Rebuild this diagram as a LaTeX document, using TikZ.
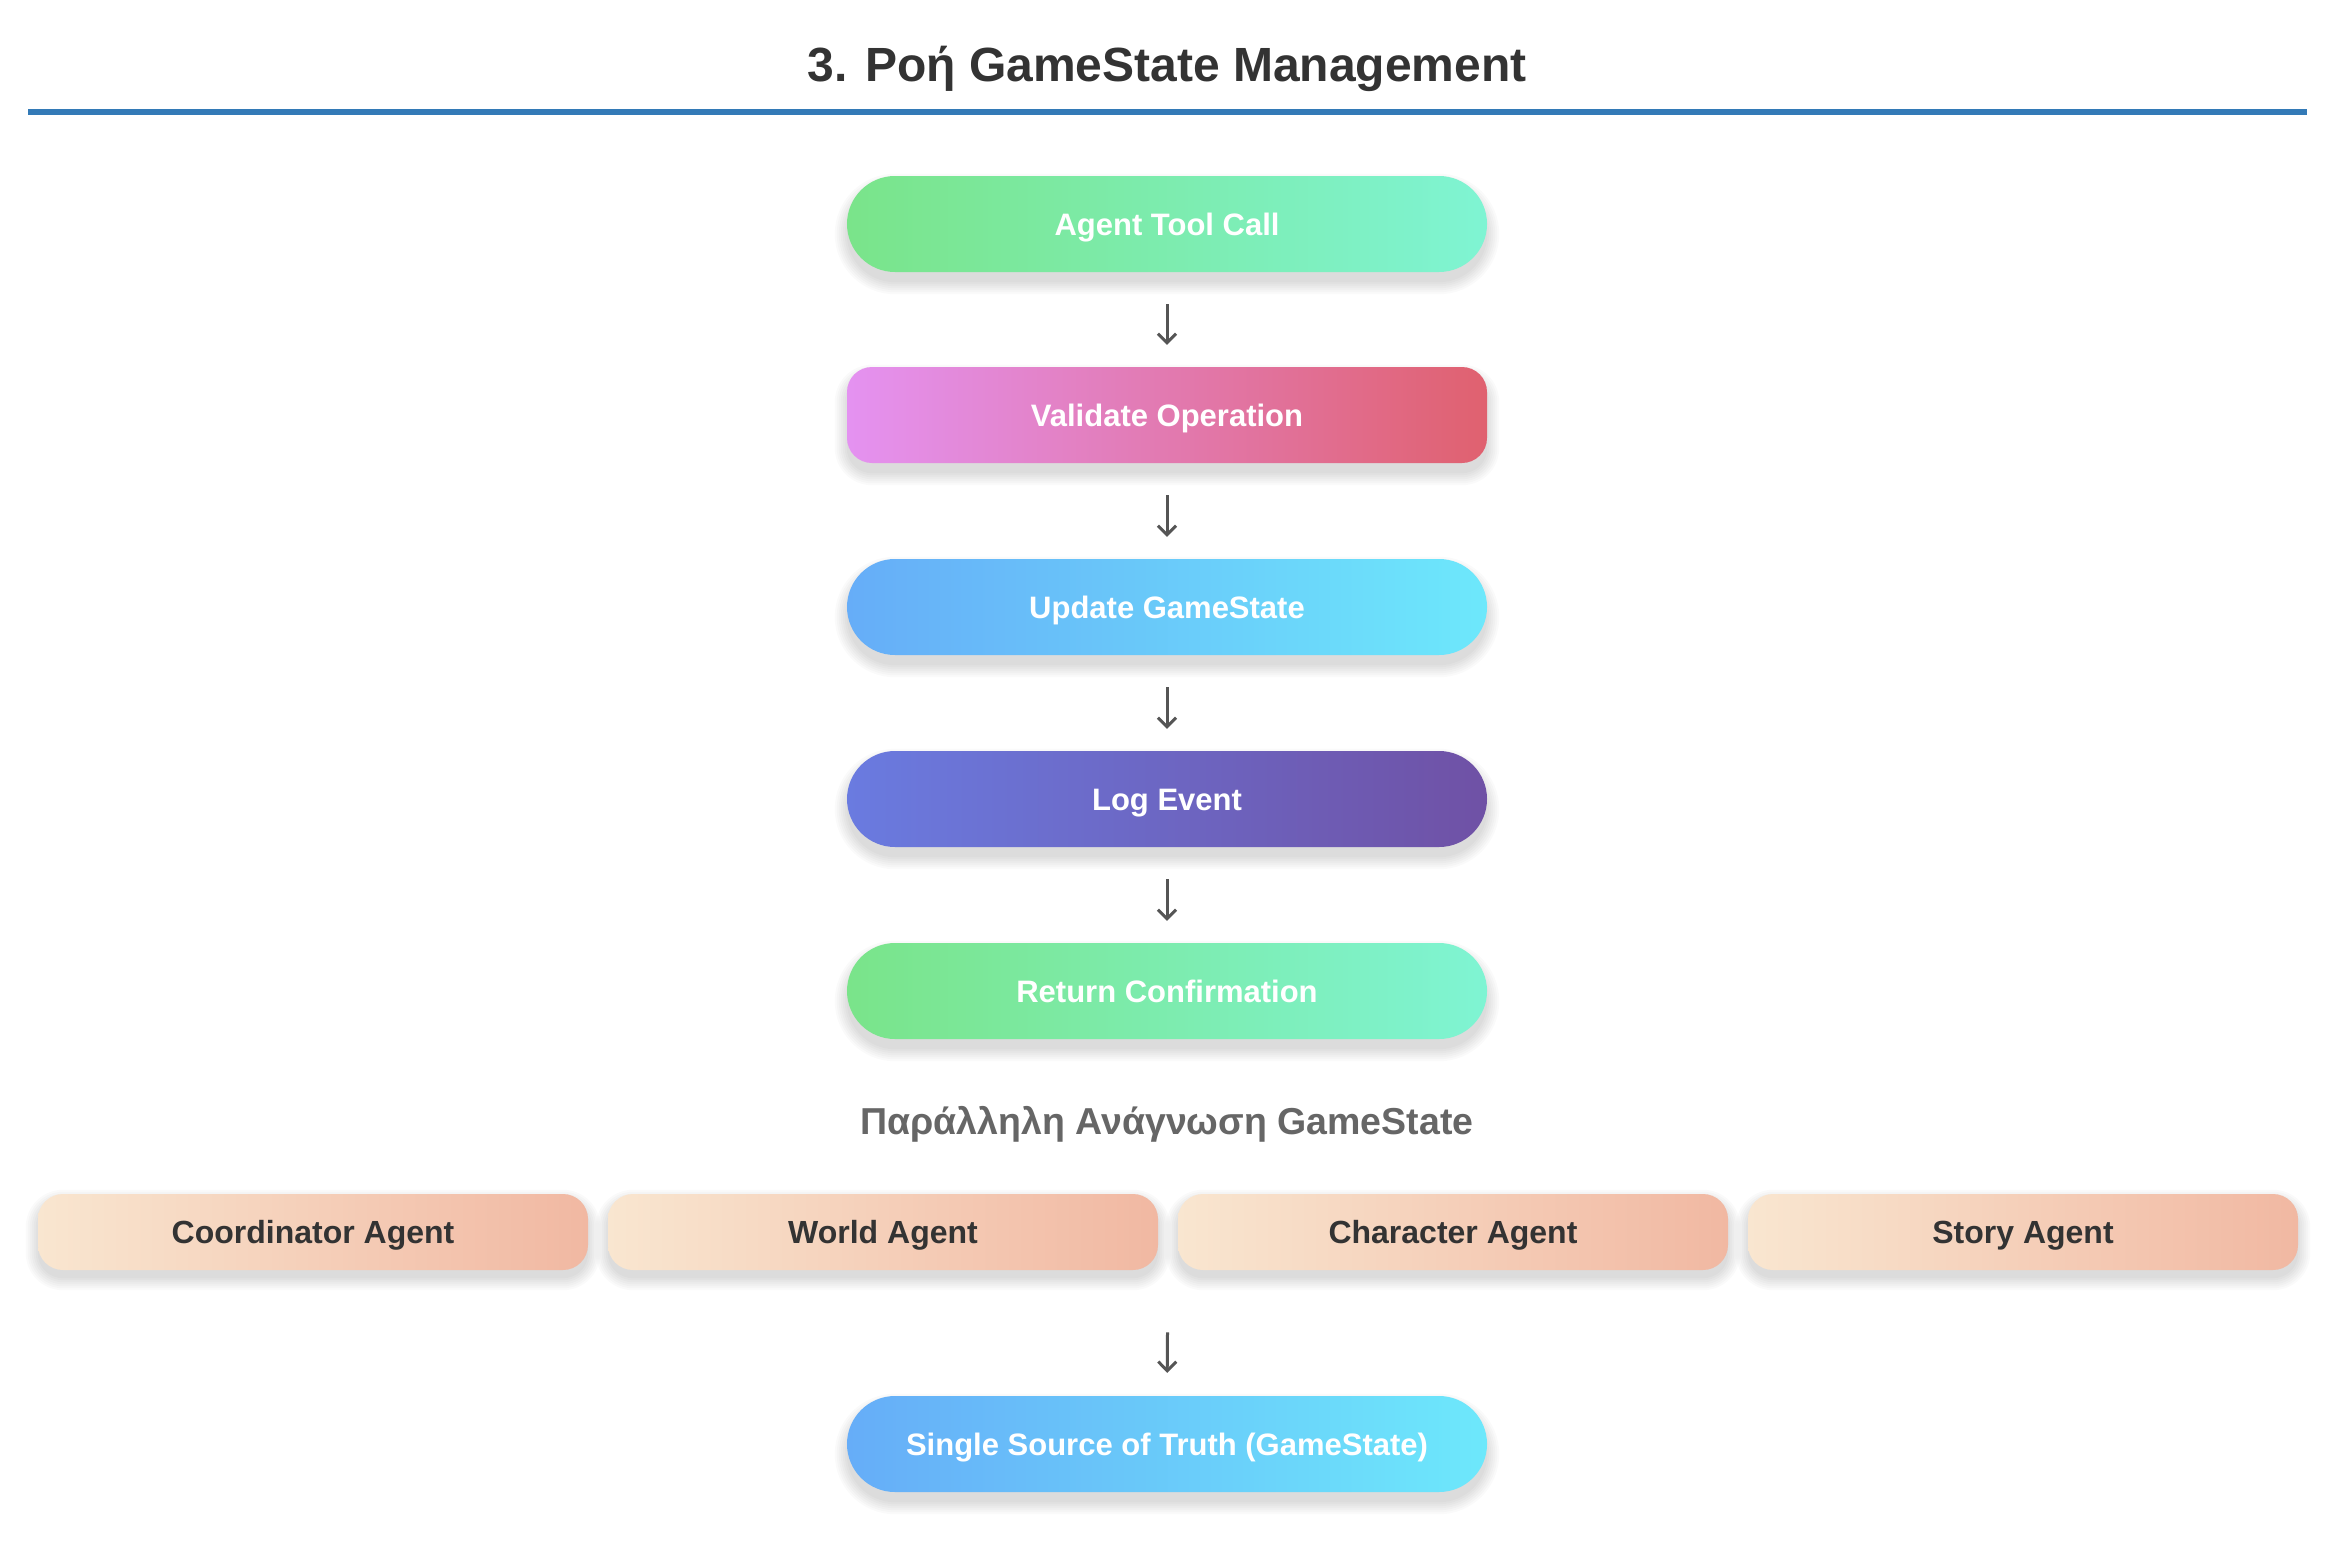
\documentclass[tikz,border=0pt]{standalone}
\usepackage{fontspec}
\setmainfont{Liberation Sans}
\usetikzlibrary{arrows.meta,fit,backgrounds}
\definecolor{titlecol}{HTML}{333333}
\definecolor{subcol}{HTML}{666666}
\definecolor{rulecol}{HTML}{337AB7}
\definecolor{arrowcol}{HTML}{555555}
\definecolor{gA}{HTML}{7AE48A}
\definecolor{gB}{HTML}{7FF4D3}
\definecolor{vA}{HTML}{E492F1}
\definecolor{vB}{HTML}{E0616F}
\definecolor{uA}{HTML}{66ADF8}
\definecolor{uB}{HTML}{6DE8FB}
\definecolor{lA}{HTML}{6A7BE0}
\definecolor{lB}{HTML}{6F51A5}
\definecolor{aA}{HTML}{F9E6D0}
\definecolor{aB}{HTML}{F1B8A2}
\newcommand{\mysoftshadow}[3]{% node, radius, offset
  \foreach \k in {0,2,...,12} {
    \fill[black, opacity=0.018, rounded corners=#2pt+\k pt]
      ([xshift=-\k pt, yshift=\k pt-#3pt]#1.north west) rectangle
      ([xshift=\k pt, yshift=-\k pt-#3pt]#1.south east);
  }}
\begin{document}
\begin{tikzpicture}[x=1pt,y=-1pt,
  pill/.style={rounded corners=48pt, minimum width=640pt, minimum height=96pt,
    inner sep=0pt, text=white, text height=22.3pt, text depth=0pt,
    font=\bfseries\fontsize{31}{36}\selectfont},
  squarish/.style={pill, rounded corners=25pt},
  agentbox/.style={rounded corners=25pt, minimum width=550pt, minimum height=76pt,
    inner sep=0pt, text=titlecol, text height=22.9pt, text depth=0pt,
    font=\bfseries\fontsize{32}{36}\selectfont, left color=aA, right color=aB},
  flow/.style={draw=arrowcol, line width=3pt, -{Straight Barb[length=9pt,width=18pt]}}
]
\useasboundingbox (0,0) rectangle (2334,1550);

\node[anchor=base, text=titlecol, font=\bfseries\fontsize{48}{56}\selectfont] (title) at (1167,81) {3. Ροή GameState Management};
\coordinate (ruleL) at (28,112);
\coordinate (ruleR) at (2307,112);
\draw[rulecol, line width=6pt] (ruleL) -- (ruleR);

\node[pill, left color=gA, right color=gB] (n1) at (1167,224) {Agent Tool Call};
\node[squarish, left color=vA, right color=vB] (n2) at (1167,415) {Validate Operation};
\node[pill, left color=uA, right color=uB] (n3) at (1167,607) {Update GameState};
\node[pill, left color=lA, right color=lB] (n4) at (1167,799) {Log Event};
\node[pill, left color=gA, right color=gB] (n5) at (1167,991) {Return Confirmation};

\foreach \a/\b in {n1/n2,n2/n3,n3/n4,n4/n5}
  \draw[flow, shorten <=32pt, shorten >=22pt] (\a.south) -- (\b.north);

\node[anchor=base, text=subcol, font=\bfseries\fontsize{37.5}{44}\selectfont] (sub) at (1167,1134) {Παράλληλη Ανάγνωση GameState};

\node[agentbox] (a1) at (313,1232) {Coordinator Agent};
\node[agentbox] (a2) at (883,1232) {World Agent};
\node[agentbox] (a3) at (1453,1232) {Character Agent};
\node[agentbox] (a4) at (2023,1232) {Story Agent};
\node[fit=(a1)(a4), inner sep=0pt] (row) {};

\node[pill, left color=uA, right color=uB] (fin) at (1167,1444) {Single Source of Truth (GameState)};

\draw[flow, shorten <=62pt, shorten >=23pt] (row.south) -- (fin.north);

\begin{scope}[on background layer]
  \fill[white] (0,0) rectangle (2334,1550);
  \foreach \n in {n1,n3,n4,n5,fin} { \mysoftshadow{\n}{48}{10} }
  \mysoftshadow{n2}{25}{10}
  \foreach \n in {a1,a2,a3,a4} { \mysoftshadow{\n}{25}{8} }
\end{scope}
\end{tikzpicture}
\end{document}
